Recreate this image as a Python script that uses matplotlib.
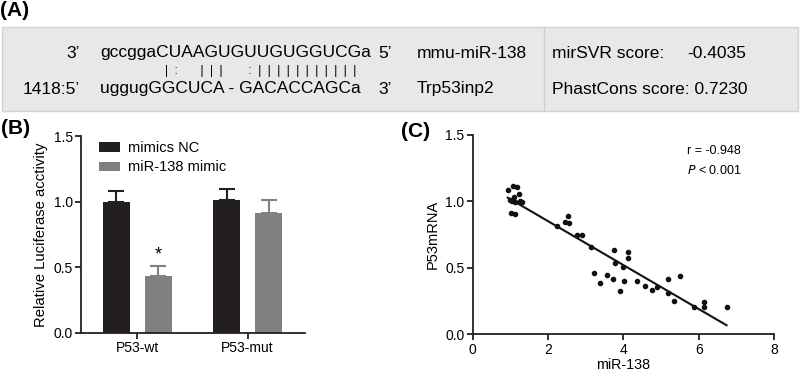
import numpy as np
import matplotlib
matplotlib.use("Agg")
import matplotlib.pyplot as plt
from matplotlib.patches import Rectangle

plt.rcParams['font.family'] = ['Liberation Sans', 'DejaVu Sans']

# panel B data
groups = ["P53-wt", "P53-mut"]
nc_mean = [1.00, 1.01]
nc_err = [0.078, 0.084]
mimic_mean = [0.432, 0.915]
mimic_err = [0.079, 0.10]
series_names = ["mimics NC", "miR-138 mimic"]

# panel C data
mir138 = [0.93, 1.07, 1.17, 1.22, 1.10, 0.99, 1.05, 1.11, 1.26, 1.31, 1.01, 1.12,
          2.23, 2.45, 2.54, 2.57, 2.78, 2.90, 3.13, 3.22, 3.38, 3.57, 3.74, 3.78,
          3.73, 3.90, 4.00, 4.02, 4.13, 4.13, 4.36, 4.58, 4.76, 4.89, 5.19, 5.19,
          5.35, 5.50, 5.88, 6.14, 6.14, 6.74]
p53 = [1.086, 1.119, 1.109, 1.056, 1.031, 1.011, 1.006, 0.996, 1.003, 0.998, 0.915, 0.905,
       0.815, 0.845, 0.893, 0.835, 0.745, 0.745, 0.657, 0.464, 0.384, 0.444, 0.635, 0.537,
       0.414, 0.323, 0.504, 0.404, 0.617, 0.574, 0.404, 0.366, 0.336, 0.356, 0.414, 0.311,
       0.253, 0.436, 0.203, 0.246, 0.203, 0.203]

W, H = 800, 374
fig = plt.figure(figsize=(8, 3.74), dpi=100)


def fx(px):
    return px / W


def fy(py):
    return 1 - py / H


# ---- panel A ----
fig.text(fx(0), fy(11), "(A)", fontsize=15, fontweight='bold', va='center', ha='left')
fig.patches.append(Rectangle((fx(2), fy(111)), fx(796), (111 - 27) / H,
                             transform=fig.transFigure, facecolor='#e8e8e8',
                             edgecolor='#d2d2d2', lw=1))
fig.add_artist(plt.Line2D([fx(544), fx(544)], [fy(27), fy(111)],
                          transform=fig.transFigure, color='#cfcfcf', lw=1))
fs_a = 12.5
pairing = "|  :" + " " * 7 + "|  |  |" + " " * 8 + ":" + "  |" * 11
fig.text(fx(80), fy(53), "3\u2019", fontsize=fs_a, ha='right', va='center')
fig.text(fx(80), fy(89), "1418:5\u2019", fontsize=fs_a, ha='right', va='center')
fig.text(fx(100), fy(53), "gccggaCUAAGUGUUGUGGUCGa", fontsize=fs_a, ha='left', va='center')
fig.text(fx(100), fy(89), "uggugGGCUCA - GACACCAGCa", fontsize=fs_a, ha='left', va='center')
fig.text(fx(165), fy(71), pairing, fontsize=8.5, ha='left', va='center')
fig.text(fx(378), fy(53), "5\u2019", fontsize=fs_a, ha='left', va='center')
fig.text(fx(378), fy(89), "3\u2019", fontsize=fs_a, ha='left', va='center')
fig.text(fx(417), fy(53), "mmu-miR-138", fontsize=fs_a, ha='left', va='center')
fig.text(fx(417), fy(89), "Trp53inp2", fontsize=fs_a, ha='left', va='center')
fig.text(fx(552), fy(53), "mirSVR score:", fontsize=fs_a, ha='left', va='center')
fig.text(fx(687), fy(53), "-0.4035", fontsize=fs_a, ha='left', va='center')
fig.text(fx(552), fy(89), "PhastCons score: 0.7230", fontsize=fs_a, ha='left', va='center')

# ---- panel B ----
axb = fig.add_axes([fx(81), fy(332.7), (305 - 81) / W, (332.7 - 136) / H])
x = np.arange(len(groups))
off, bw = 0.19, 0.242
c_nc, c_mi = '#231f20', '#808080'
axb.bar(x - off, nc_mean, bw, color=c_nc, label=series_names[0], zorder=2)
axb.bar(x + off, mimic_mean, bw, color=c_mi, label=series_names[1], zorder=2)
axb.errorbar(x - off, nc_mean, yerr=[np.zeros(2), nc_err], fmt='none', ecolor=c_nc,
             elinewidth=1.5, capsize=6, capthick=1.5, zorder=1)
axb.errorbar(x + off, mimic_mean, yerr=[np.zeros(2), mimic_err], fmt='none', ecolor=c_mi,
             elinewidth=1.5, capsize=6, capthick=1.5, zorder=1)
axb.text(x[0] + off, mimic_mean[0] + mimic_err[0] + 0.02, "*", ha='center', va='bottom',
         fontsize=13)
axb.set_xlim(-0.51, 1.52)
axb.set_ylim(0, 1.5)
axb.set_yticks([0, 0.5, 1.0, 1.5])
axb.set_yticklabels(["0.0", "0.5", "1.0", "1.5"])
axb.set_xticks(x)
axb.set_xticklabels(groups, fontsize=10.5)
axb.set_ylabel("Relative Luciferase acctivity", fontsize=10.7, labelpad=4)
axb.legend(loc='upper left', bbox_to_anchor=(0.02, 1.04), frameon=False, fontsize=10.5,
           handlelength=1.5, handleheight=0.6, handletextpad=0.5, labelspacing=0.35)
fig.text(fx(1), fy(128), "(B)", fontsize=15, fontweight='bold', va='center', ha='left')

# ---- panel C ----
axc = fig.add_axes([fx(472.7), fy(334.3), (774 - 472.7) / W, (334.3 - 135) / H])
axc.scatter(mir138, p53, s=9, color='#111111', zorder=3)
xs = np.array(mir138)
ys = np.array(p53)
k, b = np.polyfit(xs, ys, 1)
xl = np.array([xs.min(), xs.max()])
axc.plot(xl, k * xl + b, color='#111111', lw=1.5)
axc.set_xlim(0, 8)
axc.set_ylim(0, 1.5)
axc.set_xticks([0, 2, 4, 6, 8])
axc.set_yticks([0, 0.5, 1.0, 1.5])
axc.set_yticklabels(["0.0", "0.5", "1.0", "1.5"])
axc.set_xlabel("miR-138", fontsize=10.3, labelpad=1)
axc.set_ylabel("P53mRNA", fontsize=10.5, labelpad=4)
axc.text(0.71, 0.92, "r = -0.948", transform=axc.transAxes, fontsize=9, va='center')
axc.text(0.71, 0.82, "$\\it{P}$ < 0.001", transform=axc.transAxes, fontsize=9, va='center')
fig.text(fx(401), fy(131), "(C)", fontsize=15, fontweight='bold', va='center', ha='left')

for ax in (axb, axc):
    for s in ('top', 'right'):
        ax.spines[s].set_visible(False)
    for s in ('left', 'bottom'):
        ax.spines[s].set_linewidth(1.3)
        ax.spines[s].set_color('#222222')
    ax.tick_params(width=1.3, length=4, labelsize=10, color='#222222', pad=2)

fig.savefig("out.png", dpi=100)
